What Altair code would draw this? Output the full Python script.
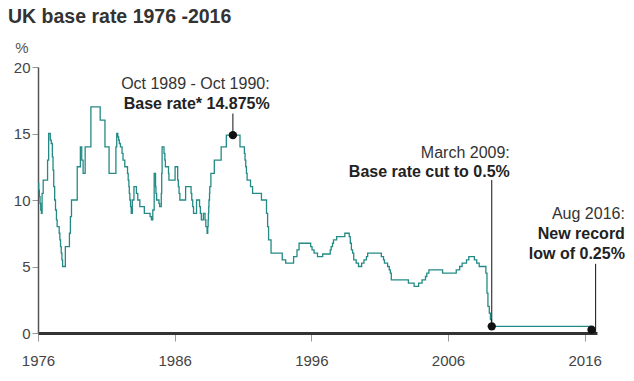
import altair as alt
import pandas as pd

# UK base rate change points (decimal year, % rate), drawn as steps
years = [1976.00, 1976.05, 1976.10, 1976.15, 1976.20, 1976.25, 1976.30, 1976.38, 1976.70, 1976.78,
         1976.90, 1976.97, 1977.05, 1977.10, 1977.15, 1977.22, 1977.28, 1977.35, 1977.40, 1977.55,
         1977.60, 1977.65, 1977.70, 1977.75, 1977.80, 1978.00, 1978.30, 1978.37, 1978.45, 1978.87,
         1979.10, 1979.20, 1979.30, 1979.45, 1979.87, 1980.55, 1980.90, 1981.20, 1981.70, 1981.76,
         1981.84, 1981.90, 1981.95, 1982.03, 1982.15, 1982.22, 1982.35, 1982.55, 1982.60, 1982.65,
         1982.68, 1982.72, 1982.77, 1982.82, 1982.90, 1983.02, 1983.20, 1983.30, 1983.45, 1983.78,
         1984.20, 1984.30, 1984.40, 1984.50, 1984.60, 1984.63, 1984.68, 1984.85, 1984.90, 1985.02,
         1985.05, 1985.08, 1985.22, 1985.28, 1985.32, 1985.55, 1985.58, 1986.03, 1986.22, 1986.27,
         1986.32, 1986.38, 1986.80, 1987.20, 1987.25, 1987.32, 1987.38, 1987.60, 1987.82, 1987.88,
         1987.95, 1988.10, 1988.22, 1988.28, 1988.37, 1988.42, 1988.45, 1988.47, 1988.49, 1988.51,
         1988.55, 1988.57, 1988.65, 1988.90, 1989.40, 1989.78, 1990.78, 1991.10, 1991.15, 1991.20,
         1991.25, 1991.30, 1991.55, 1991.70, 1992.35, 1992.72, 1992.80, 1992.87, 1993.05, 1993.87,
         1994.12, 1994.70, 1994.95, 1995.10, 1995.95, 1996.05, 1996.20, 1996.45, 1996.83, 1997.38,
         1997.45, 1997.55, 1997.62, 1997.85, 1998.45, 1998.77, 1998.85, 1998.93, 1999.02, 1999.10,
         1999.28, 1999.45, 1999.68, 1999.85, 2000.03, 2000.12, 2001.12, 2001.28, 2001.35, 2001.58,
         2001.70, 2001.78, 2001.85, 2003.10, 2003.52, 2003.85, 2004.10, 2004.35, 2004.45, 2004.60,
         2005.60, 2006.60, 2006.85, 2007.03, 2007.35, 2007.52, 2007.93, 2008.10, 2008.28, 2008.77,
         2008.85, 2008.92, 2009.02, 2009.10, 2009.18, 2016.45]
rates = [11.25, 10.75, 10.25, 9.75, 9.25, 9.0, 10.5, 11.5, 13.0, 15.0,
         14.5, 14.25, 13.25, 12.25, 11.0, 10.0, 9.25, 8.5, 8.0, 7.5,
         7.0, 6.5, 6.0, 5.5, 5.0, 6.5, 7.5, 8.75, 10.0, 12.5,
         14.0, 13.0, 12.0, 14.0, 17.0, 16.0, 14.0, 12.0, 14.0, 15.0,
         14.75, 14.5, 14.25, 14.0, 13.5, 13.0, 12.5, 12.0, 11.5, 11.0,
         10.5, 10.0, 9.5, 9.0, 10.0, 11.0, 10.5, 10.0, 9.5, 9.0,
         8.75, 8.5, 9.25, 12.0, 11.0, 10.5, 10.0, 9.75, 9.5, 10.5,
         12.0, 14.0, 13.5, 13.0, 12.5, 12.0, 11.5, 12.5, 11.5, 11.0,
         10.5, 10.0, 11.0, 10.5, 10.0, 9.5, 9.0, 10.0, 9.5, 9.0,
         8.5, 9.0, 8.5, 8.0, 7.5, 8.0, 8.5, 9.0, 9.5, 10.0,
         10.5, 11.0, 12.0, 13.0, 14.0, 14.875, 14.0, 13.5, 13.0, 12.5,
         12.0, 11.5, 11.0, 10.5, 10.0, 9.0, 8.0, 7.0, 6.0, 5.5,
         5.25, 5.75, 6.25, 6.75, 6.5, 6.25, 6.0, 5.75, 5.94, 6.25,
         6.5, 6.75, 7.0, 7.25, 7.5, 7.25, 6.75, 6.25, 6.0, 5.5,
         5.25, 5.0, 5.25, 5.5, 5.75, 6.0, 5.75, 5.5, 5.25, 5.0,
         4.75, 4.5, 4.0, 3.75, 3.5, 3.75, 4.0, 4.25, 4.5, 4.75,
         4.5, 4.75, 5.0, 5.25, 5.5, 5.75, 5.5, 5.25, 5.0, 4.5,
         3.0, 2.0, 1.5, 1.0, 0.5, 0.5]

# Highlighted events
event_years = [1990.26, 2009.20, 2016.50]
event_rates = [14.875, 0.5, 0.25]

# Leader lines (x, from, to) in data units
rule_years = [1990.26, 2009.20, 2016.80]
rule_from = [14.875, 0.5, 0.0]
rule_to = [16.5, 11.5, 5.2]

# Annotation text lines anchored in data units (right aligned)
note_text = ["Oct 1989 - Oct 1990:", "Base rate* 14.875%",
             "March 2009:", "Base rate cut to 0.5%",
             "Aug 2016:", "New record", "low of 0.25%"]
note_year = [1992.95, 1992.95, 2010.52, 2010.52, 2018.94, 2018.94, 2018.94]
note_rate = [18.36, 16.87, 13.19, 11.73, 8.60, 7.10, 5.59]
note_bold = [False, True, False, True, False, True, True]

x_ticks = [1976, 1986, 1996, 2006, 2016]
y_ticks = [0, 5, 10, 15, 20]

FONT = "Liberation Sans"

series = pd.DataFrame({"year": years, "rate": rates})
events = pd.DataFrame({"year": event_years, "rate": event_rates})
rules = pd.DataFrame({"year": rule_years, "rate": rule_from, "rate2": rule_to})
notes = pd.DataFrame({"year": note_year, "rate": note_rate, "text": note_text, "bold": note_bold})

xscale = alt.Scale(domain=[1976, 2016.9], nice=False, zero=False)
yscale = alt.Scale(domain=[0, 20], nice=False)

xaxis = alt.Axis(values=x_ticks, format="d", title=None, grid=False,
                 domainColor="#333333", domainWidth=3, tickColor="#999999",
                 tickSize=8, tickWidth=1, labelFontSize=15, labelColor="#444444",
                 labelFont=FONT, labelPadding=12, labelFlush=False)
yaxis = alt.Axis(values=y_ticks, title=None, grid=False,
                 domainColor="#555555", domainWidth=1.5, tickColor="#999999",
                 tickSize=6, tickWidth=1, labelFontSize=15, labelColor="#444444",
                 labelFont=FONT, labelPadding=2)


def X(field="year"):
    return alt.X(f"{field}:Q", scale=xscale, axis=xaxis)


def Y(field="rate"):
    return alt.Y(f"{field}:Q", scale=yscale, axis=yaxis)


line = alt.Chart(series).mark_line(interpolate="step-after", color="#238a85",
                                   strokeWidth=1.3).encode(x=X(), y=Y())

rule = alt.Chart(rules).mark_rule(color="#111111", strokeWidth=1).encode(
    x=X(), y=Y(), y2="rate2:Q")

dots = alt.Chart(events).mark_circle(size=70, color="#111111", opacity=1).encode(
    x=X(), y=Y())

notes_reg = alt.Chart(notes[~notes["bold"]]).mark_text(
    align="right", baseline="alphabetic", fontSize=16, font=FONT, color="#333333"
).encode(x=X(), y=Y(), text="text:N")

notes_bold = alt.Chart(notes[notes["bold"]]).mark_text(
    align="right", baseline="alphabetic", fontSize=16, font=FONT, color="#222222",
    fontWeight="bold"
).encode(x=X(), y=Y(), text="text:N")

title = alt.Chart(pd.DataFrame({"t": ["UK base rate 1976 -2016"]})).mark_text(
    align="left", baseline="alphabetic", fontSize=19.5, font=FONT, fontWeight="bold",
    color="#333333"
).encode(x=alt.value(-30), y=alt.value(-44.5), text="t:N")

unit = alt.Chart(pd.DataFrame({"t": ["%"]})).mark_text(
    align="center", baseline="alphabetic", fontSize=15, font=FONT, color="#555555"
).encode(x=alt.value(-16), y=alt.value(-14.5), text="t:N")

chart = alt.layer(line, rule, dots, notes_reg, notes_bold, title, unit).properties(
    width=559, height=266,
    autosize=alt.AutoSizeParams(type="none"),
    padding={"left": 30, "top": 59, "right": 29, "bottom": 40},
).configure_view(stroke=None)

chart.save("out.html", embed_options={"renderer": "svg", "actions": False})
